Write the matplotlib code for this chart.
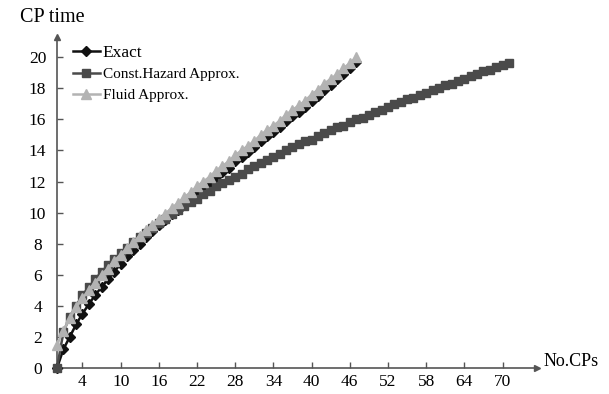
import matplotlib
matplotlib.use("Agg")
import matplotlib.pyplot as plt
import numpy as np

plt.rcParams['font.family'] = ['Liberation Serif', 'DejaVu Serif']

# CP time per number of CPs
exact = [0.0, 1.2, 2.0, 2.8, 3.5, 4.1, 4.7, 5.2, 5.7, 6.2,
         6.7, 7.2, 7.6, 8.0, 8.4, 8.8, 9.2, 9.5, 9.9, 10.2,
         10.6, 10.9, 11.3, 11.6, 11.9, 12.3, 12.6, 12.9, 13.3, 13.6,
         13.9, 14.2, 14.6, 14.9, 15.2, 15.5, 15.9, 16.2, 16.5, 16.8,
         17.2, 17.5, 17.9, 18.2, 18.6, 18.9, 19.3, 19.7]
const_hazard = [0.0, 2.3, 3.3, 4.0, 4.7, 5.2, 5.7, 6.2, 6.6, 7.0,
                7.4, 7.7, 8.1, 8.4, 8.7, 9.0, 9.3, 9.6, 9.9, 10.2,
                10.4, 10.7, 10.9, 11.2, 11.4, 11.7, 11.9, 12.1, 12.3, 12.5,
                12.8, 13.0, 13.2, 13.4, 13.6, 13.8, 14.0, 14.2, 14.4, 14.6,
                14.7, 14.9, 15.1, 15.3, 15.5, 15.6, 15.8, 16.0, 16.1, 16.3,
                16.5, 16.6, 16.8, 17.0, 17.1, 17.3, 17.4, 17.6, 17.7, 17.9,
                18.0, 18.2, 18.3, 18.5, 18.6, 18.8, 18.9, 19.1, 19.2, 19.4,
                19.5, 19.6]
fluid = [1.5, 2.4, 3.2, 3.9, 4.5, 5.0, 5.5, 6.0, 6.4, 6.9,
         7.3, 7.7, 8.1, 8.5, 8.9, 9.2, 9.6, 9.9, 10.3, 10.6,
         11.0, 11.3, 11.7, 12.0, 12.3, 12.7, 13.0, 13.3, 13.7, 14.0,
         14.3, 14.6, 15.0, 15.3, 15.6, 15.9, 16.3, 16.6, 16.9, 17.2,
         17.6, 17.9, 18.3, 18.6, 18.9, 19.3, 19.6, 20.0]

x_ticks = [4, 10, 16, 22, 28, 34, 40, 46, 52, 58, 64, 70]
y_ticks = [0, 2, 4, 6, 8, 10, 12, 14, 16, 18, 20]

fig = plt.figure(figsize=(6.09, 3.94), dpi=100)
ax = fig.add_axes([0.0936, 0.066, 0.788, 0.840])

ax.plot(np.arange(len(exact)), exact, color='#111111', lw=1.8,
        marker='D', ms=5, label='Exact', clip_on=False, zorder=3)
ax.plot(np.arange(len(const_hazard)), const_hazard, color='#4a4a4a', lw=1.8,
        marker='s', ms=6.2, label='Const.Hazard Approx.', clip_on=False, zorder=4)
ax.plot(np.arange(len(fluid)), fluid, color='#b3b3b3', lw=1.8,
        marker='^', ms=6.8, label='Fluid Approx.', clip_on=False, zorder=5)

ax.set_xlim(0, 75.4)
ax.set_ylim(0, 21.3)
ax.set_xticks(x_ticks)
ax.set_yticks(y_ticks)

for s in ['top', 'right']:
    ax.spines[s].set_visible(False)
for s in ['left', 'bottom']:
    ax.spines[s].set_color('#555555')
    ax.spines[s].set_linewidth(1.2)

# arrow heads on the axes
ax.plot(1, 0, '>', color='#555555', ms=5, transform=ax.transAxes, clip_on=False)
ax.plot(0, 1, '^', color='#555555', ms=5, transform=ax.transAxes, clip_on=False)

ax.tick_params(axis='both', direction='in', length=4, width=1, color='#555555',
               labelsize=12.5)
ax.tick_params(axis='x', pad=4)
ax.tick_params(axis='y', pad=14)
for lab in ax.get_yticklabels():
    lab.set_horizontalalignment('center')

fig.text(0.033, 0.955, 'CP time', fontsize=14.5, va='center', ha='left')
fig.text(0.893, 0.083, 'No.CPs', fontsize=13, va='center', ha='left')

leg = ax.legend(loc='upper left', bbox_to_anchor=(0.02, 0.995), frameon=False,
                fontsize=11, handlelength=1.8, handletextpad=0.15,
                labelspacing=0.45, borderaxespad=0)
leg.get_texts()[0].set_fontsize(12.5)

fig.savefig('out.png', dpi=100, facecolor='white')
